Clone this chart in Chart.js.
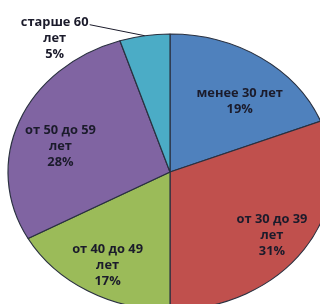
<!DOCTYPE html>
<html>
<head>
<meta charset="utf-8">
<script src="https://cdn.jsdelivr.net/npm/chart.js@4/dist/chart.umd.min.js"></script>
<style>
  html, body { margin: 0; padding: 0; background: #fff; overflow: hidden; }
  #wrap { width: 320px; height: 304px; overflow: hidden; }
</style>
</head>
<body>
<div id="wrap"><canvas id="pie" width="320" height="312"></canvas></div>
<script>
// данные
const categories = ["менее 30 лет", "от 30 до 39 лет", "от 40 до 49 лет", "от 50 до 59 лет", "старше 60 лет"];
const labelLines = [["менее 30 лет"], ["от 30 до 39", "лет"], ["от 40 до 49", "лет"], ["от 50 до 59", "лет"], ["старше 60", "лет"]];
const values = [19, 31, 17, 28, 5];
const sliceColors = ["#4f81bd", "#c0504d", "#9bbb59", "#8064a2", "#4bacc6"];

// растяжение по горизонтали (картинка эллиптическая)
const stretchX = 162 / 138;
const textStretch = 1.07;
// положение подписей: доля радиуса и сдвиг угла (градусы)
const labelPlace = [[0.667, 6], [0.78, 2], [0.78, -1], [0.70, -6.6]];
const textColor = "#1b1b2b";
const font = "bold 12px 'Open Sans'";
const lineH = 16;

const stretchPlugin = {
  id: "stretch",
  beforeDatasetsDraw(chart) {
    const arc = chart.getDatasetMeta(0).data[0];
    const ctx = chart.ctx;
    ctx.save();
    ctx.translate(arc.x, 0);
    ctx.scale(stretchX, 1);
    ctx.translate(-arc.x, 0);
  },
  afterDatasetsDraw(chart) {
    chart.ctx.restore();
  }
};

function drawText(ctx, t, x, y) {
  ctx.save();
  ctx.translate(x, y);
  ctx.scale(textStretch, 1);
  ctx.fillText(t, 0, 0);
  ctx.restore();
}

const labelsPlugin = {
  id: "sliceLabels",
  afterDraw(chart) {
    const ctx = chart.ctx;
    const total = values.reduce((a, b) => a + b, 0);
    const arcs = chart.getDatasetMeta(0).data;
    ctx.save();
    ctx.font = font;
    ctx.fillStyle = textColor;
    ctx.textAlign = "center";
    ctx.textBaseline = "middle";
    arcs.forEach((arc, i) => {
      const pct = Math.round(values[i] / total * 100) + "%";
      const lines = labelLines[i].concat([pct]);
      const mid = (arc.startAngle + arc.endAngle) / 2;
      if (i < labelPlace.length) {
        const a = mid + labelPlace[i][1] * Math.PI / 180;
        const r = arc.outerRadius * labelPlace[i][0];
        const x = arc.x + Math.cos(a) * r * stretchX;
        const y = arc.y + Math.sin(a) * r;
        const y0 = y - (lines.length - 1) * lineH / 2;
        lines.forEach((t, k) => drawText(ctx, t, x, y0 + k * lineH));
      } else {
        // выноска
        const ex = arc.x + Math.cos(mid) * arc.outerRadius * stretchX;
        const ey = arc.y + Math.sin(mid) * arc.outerRadius;
        const lx = ex - 55, ly = ey - 11;
        ctx.strokeStyle = "#1b1b2b";
        ctx.lineWidth = 1;
        ctx.beginPath();
        ctx.moveTo(ex, ey);
        ctx.lineTo(lx, ly);
        ctx.stroke();
        lines.forEach((t, k) => drawText(ctx, t, lx - 35, ly - 2 + k * lineH));
      }
    });
    ctx.restore();
  }
};

new Chart("pie", {
  type: "pie",
  data: {
    labels: categories,
    datasets: [{
      data: values,
      backgroundColor: sliceColors,
      borderColor: "#2a3140",
      borderWidth: 1,
      radius: 138,
      hoverOffset: 0,
      clip: false
    }]
  },
  options: {
    responsive: false,
    animation: false,
    events: [],
    layout: { padding: { top: 34, bottom: 2, left: 32, right: 12 } },
    plugins: {
      legend: { display: false },
      tooltip: { enabled: false }
    }
  },
  plugins: [stretchPlugin, labelsPlugin]
});
</script>
</body>
</html>
